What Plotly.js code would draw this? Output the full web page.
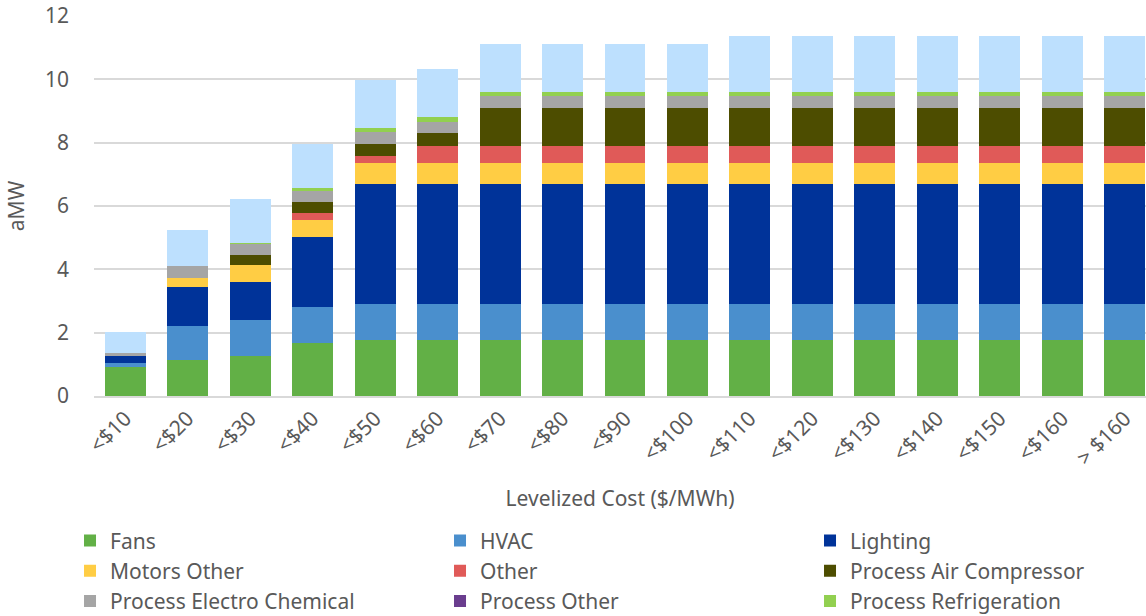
<!DOCTYPE html>
<html>
<head>
<meta charset="utf-8">
<script src="https://cdn.plot.ly/plotly-3.0.1.min.js"></script>
<style>html,body{margin:0;padding:0;background:#fff;}#chart{width:1146px;height:616px;}</style>
</head>
<body>
<div id="chart"></div>
<script>
var categories = ['<$10','<$20','<$30','<$40','<$50','<$60','<$70','<$80','<$90','<$100','<$110','<$120','<$130','<$140','<$150','<$160','> $160'];

var fans        = [0.91,1.13,1.25,1.66,1.77,1.77,1.77,1.77,1.77,1.77,1.77,1.77,1.77,1.77,1.77,1.77,1.77];
var hvac        = [0.14,1.08,1.14,1.14,1.12,1.12,1.12,1.12,1.12,1.12,1.12,1.12,1.12,1.12,1.12,1.12,1.12];
var lighting    = [0.21,1.23,1.20,2.22,3.79,3.79,3.79,3.79,3.79,3.79,3.79,3.79,3.79,3.79,3.79,3.79,3.79];
var motorsOther = [0.00,0.29,0.54,0.53,0.68,0.68,0.68,0.68,0.68,0.68,0.68,0.68,0.68,0.68,0.68,0.68,0.68];
var other       = [0.00,0.00,0.00,0.23,0.21,0.55,0.55,0.55,0.55,0.55,0.55,0.55,0.55,0.55,0.55,0.55,0.55];
var airComp     = [0.00,0.00,0.31,0.35,0.40,0.41,1.20,1.20,1.20,1.20,1.20,1.20,1.20,1.20,1.20,1.20,1.20];
var electroChem = [0.10,0.38,0.35,0.33,0.36,0.34,0.35,0.35,0.35,0.35,0.35,0.35,0.35,0.35,0.35,0.35,0.35];
var procOther   = [0,0,0,0,0,0,0,0,0,0,0,0,0,0,0,0,0];
var procRefrig  = [0.00,0.00,0.03,0.11,0.12,0.14,0.14,0.14,0.14,0.14,0.14,0.14,0.14,0.14,0.14,0.14,0.14];
var unlabeled   = [0.65,1.12,1.40,1.40,1.54,1.54,1.53,1.53,1.53,1.53,1.76,1.76,1.76,1.76,1.76,1.76,1.76];

var seriesNames = ['Fans','HVAC','Lighting','Motors Other','Other','Process Air Compressor','Process Electro Chemical','Process Other','Process Refrigeration',''];
var seriesData = [fans,hvac,lighting,motorsOther,other,airComp,electroChem,procOther,procRefrig,unlabeled];
var seriesColors = ['#62B046','#4A8FCD','#003399','#FFCD44','#E05A58','#4D4D00','#A5A5A5','#6A3D8E','#92D050','#BDE0FE'];

var traces = seriesData.map(function(vals, i){
  return {
    type:'bar',
    name: seriesNames[i],
    x: categories,
    y: vals,
    marker:{color: seriesColors[i]},
    showlegend: i < 9,
    hoverinfo:'x+y+name'
  };
});

var font = 'Noto Sans, Open Sans, sans-serif';
var layout = {
  width:1146, height:616,
  margin:{l:94, r:0, t:16, b:220, pad:0, autoexpand:false},
  paper_bgcolor:'#fff', plot_bgcolor:'#fff',
  barmode:'stack',
  bargap:0.344,
  font:{family:font, size:21, color:'#595959'},
  xaxis:{
    type:'category',
    range:[-0.5,16.34],
    tickangle:-45,
    showgrid:false,
    showline:true, linecolor:'#D9D9D9', linewidth:2,
    ticks:'',
    tickfont:{family:font, size:21, color:'#595959'},
    title:{text:'Levelized Cost ($/MWh)', font:{family:font, size:21, color:'#595959'}, standoff:22},
    automargin:false,
    fixedrange:true
  },
  yaxis:{
    range:[0,12],
    dtick:2,
    showgrid:true, gridcolor:'#D9D9D9', gridwidth:2,
    zeroline:false,
    showline:false,
    ticks:'',
    ticklabelstandoff:24,
    tickfont:{family:font, size:21, color:'#595959'},
    title:{text:'aMW', font:{family:font, size:21, color:'#595959'}, standoff:14},
    automargin:false,
    fixedrange:true
  },
  legend:{
    orientation:'h',
    traceorder:'normal',
    x:-0.0228, xanchor:'left',
    y:-0.327, yanchor:'top',
    entrywidth:325, entrywidthmode:'pixels',
    font:{family:font, size:21, color:'#595959'},
    bgcolor:'rgba(0,0,0,0)'
  },
  showlegend:true
};

Plotly.newPlot('chart', traces, layout, {displayModeBar:false, staticPlot:true});
</script>
</body>
</html>
